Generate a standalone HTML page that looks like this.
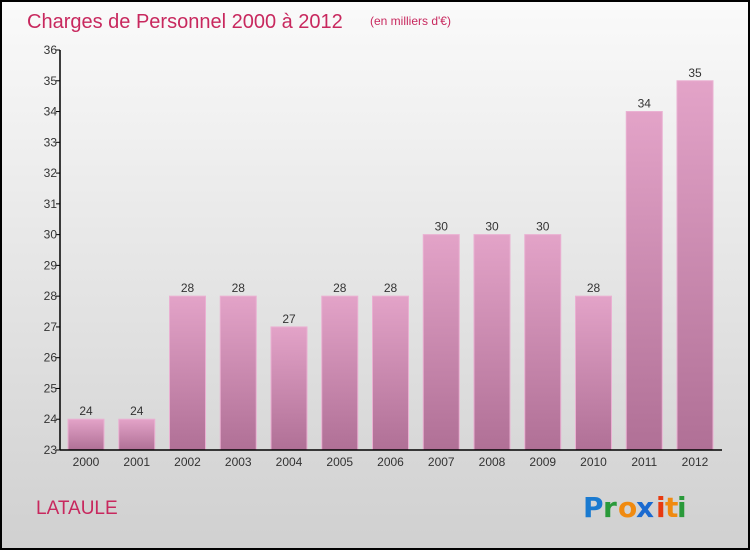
<!DOCTYPE html>
<html><head><meta charset="utf-8"><style>
body{margin:0}
svg{display:block;font-family:"Liberation Sans",sans-serif}
</style></head><body>
<svg id="c" width="750" height="550" xmlns="http://www.w3.org/2000/svg">
<defs>
<linearGradient id="bg" x1="0" y1="0" x2="0" y2="1"><stop offset="0" stop-color="#fafafa"/><stop offset="1" stop-color="#d0d0d0"/></linearGradient>
<linearGradient id="bar" x1="0" y1="0" x2="0" y2="1"><stop offset="0" stop-color="#e3a3c8"/><stop offset="1" stop-color="#b07096"/></linearGradient>
</defs>
<rect x="1" y="1" width="748" height="548" fill="url(#bg)" stroke="#000" stroke-width="2"/>
<text x="27" y="28" font-size="20" fill="#c8285e" style="font-weight:300">Charges de Personnel 2000 à 2012</text>
<text x="370" y="25" font-size="12" fill="#c8285e">(en milliers d'€)</text>
<text x="36" y="514" font-size="19" fill="#c8285e">LATAULE</text>
<g font-size="28" font-weight="bold" font-family="'DejaVu Sans',sans-serif">
<text x="583" y="517" fill="#1a7ad0">P</text><text x="603" y="517" fill="#2a9a3a">r</text><text x="618" y="517" fill="#f08a10">o</text><text x="636" y="517" fill="#1a6ad0">x</text><text x="656" y="517" fill="#e83a10">i</text><text x="665" y="517" fill="#f08a10">t</text><text x="677" y="517" fill="#2a9a3a">i</text>
</g>
<g id="plot"></g>
</svg>
<script>
const years=["2000","2001","2002","2003","2004","2005","2006","2007","2008","2009","2010","2011","2012"];
const values=[24,24,28,28,27,28,28,30,30,30,28,34,35];
const yTicks=[23,24,25,26,27,28,29,30,31,32,33,34,35,36];
const NS="http://www.w3.org/2000/svg";
const plotG=document.getElementById('plot');
const x0=60,yMin=23,yMax=36,plotTop=50,plotBot=450,step=50.75,bw=36;
const yScale=v=>plotBot-(v-yMin)/(yMax-yMin)*(plotBot-plotTop);
const xc=i=>86+i*step;
function mk(t,a){const e=document.createElementNS(NS,t);for(const k in a)e.setAttribute(k,a[k]);plotG.appendChild(e);return e;}
values.forEach((v,i)=>{
 const r=mk('rect',{x:xc(i)-bw/2,y:yScale(v),width:bw,height:plotBot-yScale(v),fill:'url(#bar)',stroke:'#eab0d2','stroke-width':1});
 
 
 const t=mk('text',{x:xc(i),y:yScale(v)-4,'font-size':12,'text-anchor':'middle',fill:'#333'});t.textContent=v;
 
 
 const l=mk('text',{x:xc(i),y:plotBot+16,'font-size':12,'text-anchor':'middle',fill:'#333'});l.textContent=years[i];
 
 
});
yTicks.forEach(v=>{
 mk('line',{x1:x0-4,x2:x0,y1:yScale(v),y2:yScale(v),stroke:'#000'});
 const t=mk('text',{x:x0-3,y:yScale(v)+4,'font-size':12,'text-anchor':'end',fill:'#333'});t.textContent=v;
 
 
});
const ya=mk('line',{x1:x0,x2:x0,y1:plotTop,y2:plotBot,stroke:'#000','stroke-width':1.5});


const xa=mk('line',{x1:x0,x2:722,y1:plotBot,y2:plotBot,stroke:'#000','stroke-width':1.5});


</script>
</body></html>
